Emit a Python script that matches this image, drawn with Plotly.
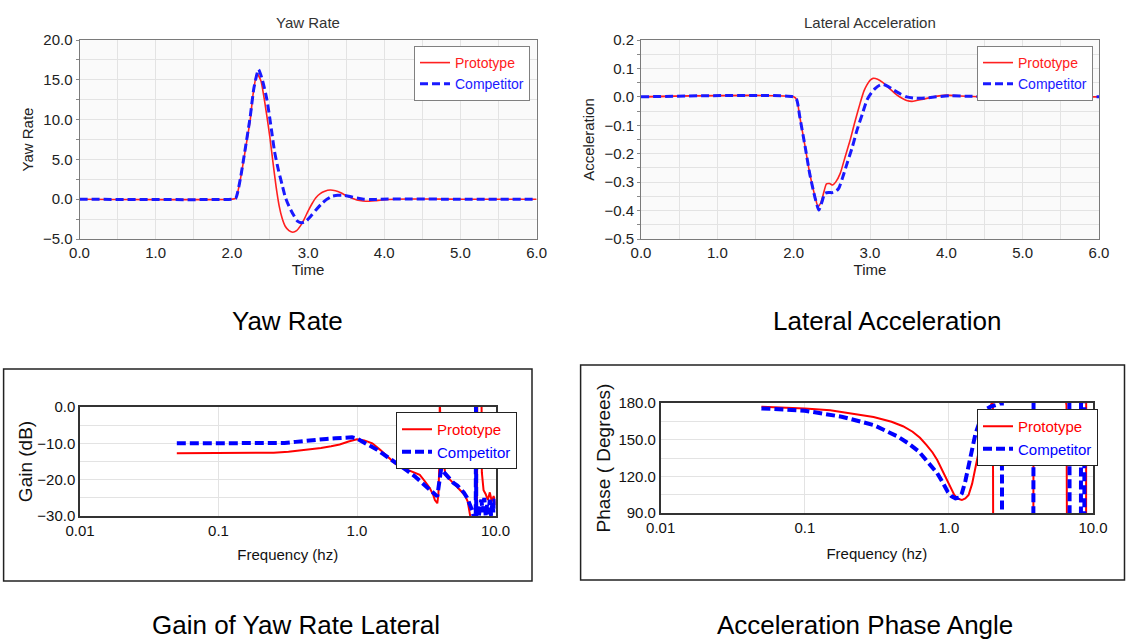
import plotly.graph_objects as go

# ---------------- data ----------------
# Yaw Rate (time response)
yaw_t_proto = [0, 2.0, 2.05, 2.11, 2.17, 2.24, 2.28, 2.33, 2.38, 2.42, 2.46, 2.5, 2.54, 2.58, 2.62, 2.66,
               2.7, 2.75, 2.8, 2.85, 2.9, 2.95, 3.0, 3.05, 3.1, 3.16, 3.22, 3.29, 3.36, 3.43, 3.5, 3.57,
               3.64, 3.72, 3.8, 3.88, 3.96, 4.05, 4.3, 4.6, 5.0, 6.0]
yaw_v_proto = [0, 0, 0.1, 2.4, 5.8, 9.9, 13.3, 15.8, 14.9, 12.9, 10.4, 7.7, 4.6, 1.6, -0.8, -2.4,
               -3.4, -3.95, -4.15, -3.95, -3.35, -2.5, -1.5, -0.6, 0.15, 0.7, 1.0, 1.15, 1.05, 0.8, 0.45, 0.15,
               -0.1, -0.22, -0.25, -0.2, -0.1, -0.03, 0.03, 0.02, 0.0, 0.0]
yaw_t_comp = [0, 2.0, 2.05, 2.11, 2.17, 2.24, 2.29, 2.35, 2.4, 2.46, 2.52, 2.56, 2.61, 2.66, 2.7, 2.75,
              2.81, 2.86, 2.92, 2.97, 3.03, 3.1, 3.17, 3.24, 3.31, 3.39, 3.46, 3.55, 3.64, 3.73, 3.83,
              3.95, 4.3, 5.0, 6.0]
yaw_v_comp = [0, 0, 0.1, 2.5, 6.0, 10.3, 14.0, 16.3, 15.0, 12.5, 8.7, 6.0, 3.7, 1.8, 0.3, -0.9,
              -2.0, -2.75, -2.95, -2.8, -2.2, -1.4, -0.65, -0.05, 0.35, 0.5, 0.5, 0.35, 0.15, 0.0, -0.05,
              0.0, 0.02, 0.0, 0.0]

# Lateral Acceleration (time response)
lat_t_proto = [0, 2.0, 2.04, 2.08, 2.15, 2.21, 2.28, 2.32, 2.36, 2.4, 2.43, 2.47, 2.51, 2.55, 2.61, 2.67,
               2.74, 2.8, 2.87, 2.92, 2.96, 3.0, 3.04, 3.1, 3.17, 3.26, 3.35, 3.42, 3.48, 3.55, 3.61,
               3.7, 3.83, 4.0, 4.18, 4.5, 5.0, 6.0]
lat_v_proto = [0, 0, -0.01, -0.07, -0.175, -0.269, -0.351, -0.386, -0.37, -0.33, -0.306, -0.305, -0.31,
               -0.3, -0.269, -0.215, -0.152, -0.09, -0.023, 0.02, 0.042, 0.058, 0.065, 0.062, 0.05, 0.028,
               0.007, -0.005, -0.013, -0.016, -0.013, -0.008, 0.0, 0.006, 0.003, 0.0, 0.0, 0.0]
lat_t_comp = [0, 2.0, 2.04, 2.08, 2.15, 2.21, 2.28, 2.33, 2.37, 2.41, 2.46, 2.5, 2.55, 2.59, 2.64, 2.7,
              2.77, 2.83, 2.9, 2.96, 3.02, 3.07, 3.12, 3.17, 3.24, 3.31, 3.4, 3.48, 3.57, 3.66, 3.76,
              3.87, 4.05, 4.3, 5.0, 6.0]
lat_v_comp = [0, 0, -0.01, -0.07, -0.175, -0.27, -0.355, -0.398, -0.37, -0.339, -0.336, -0.337, -0.333,
              -0.322, -0.285, -0.234, -0.175, -0.117, -0.06, -0.011, 0.015, 0.03, 0.04, 0.044, 0.036,
              0.024, 0.01, 0.0, -0.004, -0.005, -0.003, 0.0, 0.004, 0.002, 0.0, 0.0]

# Gain of yaw rate / lateral acceleration (dB)
gain_f_proto = [0.05, 0.1, 0.2, 0.25, 0.32, 0.39, 0.47, 0.55, 0.65, 0.75, 0.87, 1.0, 1.13, 1.29, 1.47,
                1.62, 1.75, 1.88, 2.1, 2.4, 2.84, 3.1, 3.36, 3.55, 3.65, 3.8, 3.87, 3.93, 3.96, 4.05,
                4.35, 4.8, 5.25, 5.6, 6.0, 6.3, 6.45, 6.6, 7.0, 7.35, 7.39, 7.6, 7.93, 7.97, 8.2, 8.5,
                8.8, 9.1, 9.4, 9.7, 10.0]
gain_v_proto = [-12.7, -12.7, -12.7, -12.6, -12.3, -12.0, -11.7, -11.3, -10.8, -10.3, -9.5, -8.9, -9.2,
                -10.0, -11.8, -13.2, -14.4, -15.5, -16.6, -17.6, -18.7, -20.5, -22.4, -24.2, -25.6,
                -26.5, -24.0, -16.0, 2.0, -10.0, -18.7, -20.4, -21.9, -23.0, -24.2, -26.0, -28.3, -30.5,
                -33.0, -32.0, 3.0, 3.0, 3.0, -18.0, -22.9, -24.0, -25.6, -23.5, -26.0, -24.5, -27.0]
gain_f_comp = [0.05, 0.1, 0.2, 0.3, 0.36, 0.42, 0.5, 0.6, 0.7, 0.8, 0.92, 1.0, 1.1, 1.25, 1.4, 1.55,
               1.7, 1.85, 2.0, 2.3, 2.6, 2.9, 3.2, 3.45, 3.65, 3.8, 3.87, 3.93, 4.05, 4.3, 4.6, 5.0,
               5.3, 5.6, 5.9, 6.2, 6.5, 6.8, 7.0, 7.2, 7.23, 7.26, 7.5, 7.7, 7.9, 8.1, 8.3, 8.5, 8.7,
               8.9, 9.1, 9.3, 9.5, 9.7, 9.85, 10.0]
gain_v_comp = [-10.0, -10.0, -10.0, -9.9, -9.6, -9.3, -9.1, -8.8, -8.6, -8.4, -8.35, -8.7, -9.5, -10.6,
               -11.8, -13.0, -14.0, -15.0, -16.0, -17.5, -19.0, -20.5, -22.0, -23.0, -24.0, -24.6,
               -22.0, -19.0, -17.0, -18.2, -19.6, -21.0, -21.6, -22.5, -23.5, -24.8, -26.5, -28.5,
               -30.5, -31.0, 3.0, -31.0, -31.0, -27.0, -25.5, -29.0, -25.0, -30.0, -27.0, -29.5,
               -25.5, -30.0, -26.0, -29.0, -25.0, -28.0]

# Acceleration phase angle (degrees)
phase_f_proto = [0.05, 0.1, 0.15, 0.23, 0.3, 0.4, 0.48, 0.56, 0.63, 0.7, 0.77, 0.83, 0.9, 0.98, 1.04,
                 1.09, 1.16, 1.23, 1.3, 1.37, 1.45, 1.53, 1.62, 1.71, 1.8, 1.9, 1.97, 2.0, 2.02, 2.03,
                 2.5, 3.0, 3.5, 3.85, 3.87, 5.0, 6.0, 6.4, 6.55, 6.6, 7.5, 8.4, 8.95, 8.97, 9.5, 10.0]
phase_v_proto = [177.0, 175.6, 174.0, 170.7, 168.5, 164.7, 161.0, 156.5, 151.5, 145.6, 139.5, 133.4,
                 125.0, 115.6, 109.0, 104.7, 101.5, 100.6, 102.0, 104.7, 114.0, 127.9, 142.0, 155.2,
                 166.0, 175.0, 179.0, 181.0, 179.0, 60.0, 50.0, 40.0, 30.0, 20.0, 200.0, 200.0, 200.0,
                 185.0, 178.0, 60.0, 50.0, 40.0, 30.0, 200.0, 200.0, 200.0]
phase_f_comp = [0.05, 0.1, 0.18, 0.3, 0.445, 0.53, 0.62, 0.72, 0.83, 0.9, 0.98, 1.04, 1.11, 1.17, 1.23,
                1.3, 1.37, 1.45, 1.53, 1.65, 1.77, 1.95, 2.15, 2.3, 2.33, 2.34, 3.0, 3.5, 3.85, 3.87,
                5.0, 6.0, 6.85, 6.89, 7.5, 8.24, 8.26, 8.7, 8.72, 9.5, 10.0]
phase_v_comp = [175.6, 173.7, 168.8, 162.0, 152.4, 146.5, 140.2, 131.5, 122.5, 115.5, 107.4, 103.8,
                102.0, 102.5, 106.0, 116.0, 128.0, 141.5, 155.0, 166.0, 174.3, 177.0, 178.5, 180.5,
                182.0, 60.0, 50.0, 40.0, 30.0, 200.0, 200.0, 200.0, 200.0, 60.0, 50.0, 40.0, 200.0,
                200.0, 60.0, 60.0, 60.0]

freq_tickvals = [0.01, 0.1, 1.0, 10.0]
freq_ticktext = ["0.01", "0.1", "1.0", "10.0"]

# ---------------- style ----------------
W, H = 1126, 641
SANS = "Liberation Sans, Arial, sans-serif"
RED = "#ff2020"
BLUE = "#1a1aff"
GRID = "#e3e3e3"
TXT = "#222222"
BFS = 15  # bottom charts font size


def fx(p):
    return p / W


def fy(p):
    return 1 - p / H


def proto_name(c):
    return f"<span style='color:{c}'>Prototype</span>"


def comp_name(c):
    return f"<span style='color:{c}'>Competitor</span>"


fig = go.Figure()

# top-left: yaw rate
fig.add_trace(go.Scatter(x=yaw_t_proto, y=yaw_v_proto, mode="lines", name=proto_name("#ff2020"),
                         line=dict(color=RED, width=1.6, shape="spline", smoothing=0.6),
                         xaxis="x", yaxis="y", legend="legend"))
fig.add_trace(go.Scatter(x=yaw_t_comp, y=yaw_v_comp, mode="lines", name=comp_name("#1a1aff"),
                         line=dict(color=BLUE, width=3, dash="8px,4px", shape="spline", smoothing=0.6),
                         xaxis="x", yaxis="y", legend="legend"))
# top-right: lateral acceleration
fig.add_trace(go.Scatter(x=lat_t_proto, y=lat_v_proto, mode="lines", name=proto_name("#ff2020"),
                         line=dict(color=RED, width=1.6, shape="spline", smoothing=0.6),
                         xaxis="x2", yaxis="y2", legend="legend2"))
fig.add_trace(go.Scatter(x=lat_t_comp, y=lat_v_comp, mode="lines", name=comp_name("#1a1aff"),
                         line=dict(color=BLUE, width=3, dash="8px,4px", shape="spline", smoothing=0.6),
                         xaxis="x2", yaxis="y2", legend="legend2"))
# bottom-left: gain
fig.add_trace(go.Scatter(x=gain_f_proto, y=gain_v_proto, mode="lines", name=proto_name("#ff0000"),
                         line=dict(color="#ff0000", width=2),
                         xaxis="x3", yaxis="y3", legend="legend3"))
fig.add_trace(go.Scatter(x=gain_f_comp, y=gain_v_comp, mode="lines", name=comp_name("#0000ff"),
                         line=dict(color="#0000ff", width=4, dash="9px,4px"),
                         xaxis="x3", yaxis="y3", legend="legend3"))
# bottom-right: phase
fig.add_trace(go.Scatter(x=phase_f_proto, y=phase_v_proto, mode="lines", name=proto_name("#ff0000"),
                         line=dict(color="#ff0000", width=2),
                         xaxis="x4", yaxis="y4", legend="legend4"))
fig.add_trace(go.Scatter(x=phase_f_comp, y=phase_v_comp, mode="lines", name=comp_name("#0000ff"),
                         line=dict(color="#0000ff", width=4, dash="9px,4px"),
                         xaxis="x4", yaxis="y4", legend="legend4"))


def time_axis(domain, anchor):
    return dict(domain=domain, anchor=anchor, range=[0, 6], dtick=1, tick0=0, tickformat=".1f",
                automargin=False,
                showgrid=True, gridcolor=GRID, gridwidth=1, zeroline=False,
                minor=dict(dtick=0.5, showgrid=True, gridcolor=GRID),
                showline=True, linecolor="#7a7a7a", linewidth=1, mirror=True,
                ticks="",
                tickfont=dict(family=SANS, size=15, color=TXT),
                title=dict(text="Time", font=dict(family=SANS, size=15, color=TXT), standoff=0))


def val_axis(domain, anchor, rng, dtick, minor, title, standoff):
    return dict(domain=domain, anchor=anchor, range=rng, dtick=dtick, tick0=0, tickformat=".1f",
                automargin=False,
                showgrid=True, gridcolor=GRID, gridwidth=1, zeroline=False,
                minor=dict(dtick=minor, showgrid=True, gridcolor=GRID, ticks="outside", ticklen=3,
                           tickcolor="#888"),
                showline=True, linecolor="#7a7a7a", linewidth=1, mirror=True,
                ticks="outside", ticklen=3, tickcolor="#888",
                tickfont=dict(family=SANS, size=15, color=TXT),
                title=dict(text=title, font=dict(family=SANS, size=15, color=TXT), standoff=standoff))


def freq_axis(domain, anchor, standoff):
    return dict(domain=domain, anchor=anchor, type="log", range=[-2, 1],
                tickvals=freq_tickvals, ticktext=freq_ticktext, automargin=False,
                showgrid=True, gridcolor=GRID, zeroline=False,
                showline=True, linecolor="#333333", linewidth=1.5, mirror=True,
                ticks="", tickfont=dict(family=SANS, size=BFS, color="#111"),
                title=dict(text="Frequency (hz)", font=dict(family=SANS, size=BFS, color="#111"),
                           standoff=standoff))


def resp_axis(domain, anchor, rng, dtick, minor, title, standoff):
    return dict(domain=domain, anchor=anchor, range=rng, dtick=dtick, tick0=0, tickformat=".1f",
                automargin=False,
                showgrid=True, gridcolor=GRID, zeroline=False,
                minor=dict(dtick=minor, showgrid=True, gridcolor=GRID),
                showline=True, linecolor="#333333", linewidth=1.5, mirror=True,
                ticks="", tickfont=dict(family=SANS, size=BFS, color="#111"),
                title=dict(text=title, font=dict(family=SANS, size=19, color="#111"), standoff=standoff))


def legend_cfg(xp, yp, border, size):
    return dict(x=fx(xp), y=fy(yp), xanchor="left", yanchor="top", xref="paper", yref="paper",
                bgcolor="white", bordercolor=border, borderwidth=1, itemwidth=30, tracegroupgap=0,
                font=dict(family=SANS, size=size), traceorder="normal")


def caption(text, xp, yp, size, color):
    return dict(text=text, x=fx(xp), y=fy(yp), xref="paper", yref="paper", showarrow=False,
                xanchor="center", yanchor="middle", font=dict(family=SANS, size=size, color=color))


top_y = [fy(239), fy(40)]
fig.update_layout(
    width=W, height=H, margin=dict(l=0, r=0, t=0, b=0, autoexpand=False),
    font=dict(family=SANS),
    paper_bgcolor="white", plot_bgcolor="white",
    xaxis=time_axis([fx(79.5), fx(536.6)], "y"),
    yaxis=val_axis(top_y, "x", [-5, 20], 5, 2.5, "Yaw Rate", 5),
    xaxis2=time_axis([fx(641), fx(1099)], "y2"),
    yaxis2=val_axis(top_y, "x2", [-0.5, 0.2], 0.1, 0.05, "Acceleration", 6),
    xaxis3=freq_axis([fx(80), fx(495.5)], "y3", 12),
    yaxis3=resp_axis([fy(516), fy(407)], "x3", [-30, 0], 10, 5, "Gain (dB)", 0),
    xaxis4=freq_axis([fx(660.7), fx(1093)], "y4", 14),
    yaxis4=resp_axis([fy(513), fy(403)], "x4", [90, 180], 30, 15, "Phase ( Degrees)", 3),
    legend=legend_cfg(414, 46, "#808080", 14),
    legend2=legend_cfg(977, 46, "#808080", 14),
    legend3=legend_cfg(396, 412, "#222", BFS),
    legend4=legend_cfg(977, 409, "#222", BFS),
    shapes=[
        dict(type="rect", xref="x domain", yref="y domain", x0=0, x1=1, y0=0, y1=1,
             fillcolor="#fafafa", line=dict(width=0), layer="below"),
        dict(type="rect", xref="x2 domain", yref="y2 domain", x0=0, x1=1, y0=0, y1=1,
             fillcolor="#fafafa", line=dict(width=0), layer="below"),
        dict(type="rect", xref="paper", yref="paper", x0=fx(3.6), x1=fx(532), y0=fy(581), y1=fy(369),
             line=dict(color="#222", width=1.5), layer="below"),
        dict(type="rect", xref="paper", yref="paper", x0=fx(580.6), x1=fx(1124.5), y0=fy(580), y1=fy(365),
             line=dict(color="#222", width=1.5), layer="below"),
    ],
    annotations=[
        caption("Yaw Rate", 308, 22, 15, "#333"),
        caption("Lateral Acceleration", 870, 22, 15, "#333"),
        caption("Yaw Rate", 287, 321, 26, "black"),
        caption("Lateral Acceleration", 887, 321, 26, "black"),
        caption("Gain of Yaw Rate Lateral", 296, 625, 26, "black"),
        caption("Acceleration Phase Angle", 865, 625, 26, "black"),
    ],
)

fig.write_html(
    "out.html",
    config={"displayModeBar": False},
    post_script="document.body.style.margin='0';document.body.style.overflow='hidden';",
)
